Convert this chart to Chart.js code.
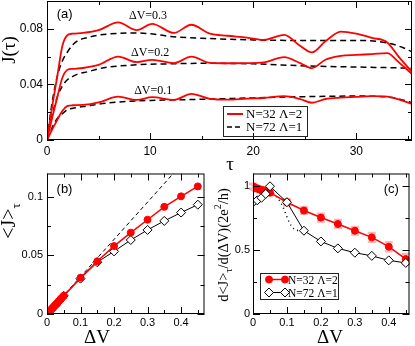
<!DOCTYPE html>
<html>
<head>
<meta charset="utf-8">
<script src="https://cdn.jsdelivr.net/npm/chart.js@4.4.1/dist/chart.umd.min.js"></script>
<style>
  body { margin: 0; background: #fff; }
  #wrap { position: relative; width: 415px; height: 346px; overflow: hidden; }
  canvas { position: absolute; }
</style>
</head>
<body>
<div id="wrap">
  <canvas id="chartA" width="415" height="172" style="left:0;top:0"></canvas>
  <canvas id="chartB" width="210" height="178" style="left:0;top:168px"></canvas>
  <canvas id="chartC" width="210" height="178" style="left:205px;top:168px"></canvas>
</div>
<script>
// (a) J(tau): red = N=32 Lambda=2, dashed = N=72 Lambda=1
const tauRed = [0, 0.5, 1, 1.5, 2, 2.5, 3.5, 5, 6.9, 8.7, 10.2, 12.3, 14, 15.8, 17.5, 19.4, 21, 23, 24.5, 25.7, 27, 28.5, 30, 31.5, 33, 34.1, 35.4];
const jRed03 = [0, 0.024, 0.046, 0.068, 0.0755, 0.0765, 0.077, 0.079, 0.0846, 0.079, 0.0836, 0.077, 0.0829, 0.0765, 0.075, 0.0737, 0.072, 0.0757, 0.068, 0.063, 0.071, 0.078, 0.0765, 0.0735, 0.0702, 0.06, 0.049];
const jRed02 = [0, 0.016, 0.031, 0.045, 0.0505, 0.0512, 0.0518, 0.054, 0.06, 0.056, 0.0577, 0.0553, 0.06, 0.0555, 0.0552, 0.0553, 0.0558, 0.0596, 0.0555, 0.0517, 0.0577, 0.0605, 0.0612, 0.0618, 0.0625, 0.056, 0.0475];
const jRed01 = [0, 0.0075, 0.0145, 0.021, 0.0245, 0.025, 0.0252, 0.027, 0.0312, 0.0288, 0.0308, 0.0288, 0.0332, 0.0296, 0.029, 0.0298, 0.0302, 0.0315, 0.0296, 0.0268, 0.0295, 0.0305, 0.031, 0.0315, 0.0312, 0.0292, 0.026];
const tauDash = [0, 0.5, 1, 1.5, 2, 2.5, 3, 4, 5, 6, 8, 10, 12, 15, 20, 25, 30, 32, 33.5, 34.5, 35.4];
const jDash03 = [0, 0.027, 0.046, 0.057, 0.0635, 0.0685, 0.0715, 0.0738, 0.0755, 0.0763, 0.077, 0.0765, 0.0745, 0.0732, 0.072, 0.0716, 0.0716, 0.071, 0.069, 0.0665, 0.0635];
const jDash02 = [0, 0.018, 0.031, 0.039, 0.0435, 0.0458, 0.0475, 0.0492, 0.0512, 0.0525, 0.0538, 0.0545, 0.0548, 0.0552, 0.0548, 0.0533, 0.0525, 0.0522, 0.052, 0.0518, 0.0515];
const jDash01 = [0, 0.009, 0.0155, 0.019, 0.0218, 0.0228, 0.0235, 0.0245, 0.0258, 0.0267, 0.0278, 0.0285, 0.0288, 0.0293, 0.0303, 0.0312, 0.0316, 0.0314, 0.0305, 0.0288, 0.0268];

// (b) <J>_tau vs dV, (c) d<J>/d(dV)
const dvRed = [0, 0.005, 0.01, 0.015, 0.02, 0.025, 0.03, 0.035, 0.04, 0.045, 0.05, 0.1, 0.15, 0.2, 0.25, 0.3, 0.35, 0.4, 0.45];
const jAvgRed = [0, 0.0016, 0.0032, 0.0048, 0.0063, 0.0079, 0.0094, 0.011, 0.0125, 0.014, 0.0155, 0.031, 0.045, 0.058, 0.0695, 0.0805, 0.0915, 0.1005, 0.109];
const dvBlack = [0, 0.0125, 0.025, 0.0375, 0.05, 0.1, 0.15, 0.2, 0.25, 0.3, 0.35, 0.4, 0.45];
const jAvgBlack = [0, 0.0035, 0.0072, 0.0112, 0.0155, 0.0302, 0.0442, 0.0535, 0.0632, 0.0718, 0.0795, 0.0866, 0.0934];
const dvOhm = [0, 0.38];
const jOhm = [0, 0.121];
const gRed = [1.0, 0.99, 0.985, 0.98, 0.975, 0.97, 0.968, 0.965, 0.96, 0.955, 0.95, 0.875, 0.81, 0.755, 0.705, 0.652, 0.6, 0.527, 0.43];
const gRedErr = [0.02, 0.02, 0.02, 0.02, 0.02, 0.02, 0.02, 0.02, 0.02, 0.02, 0.02, 0.025, 0.025, 0.03, 0.03, 0.03, 0.035, 0.035, 0.04];
const gBlack = [0.875, 0.89, 0.91, 0.94, 1.0, 0.875, 0.652, 0.568, 0.514, 0.48, 0.455, 0.42, 0.4];
const dvDot = [0.05, 0.073, 0.087, 0.097, 0.107, 0.121, 0.15];
const gDot = [0.97, 0.908, 0.845, 0.78, 0.717, 0.666, 0.648];

// labelled ticks
const xTicksA = [0, 10, 20, 30];
const yTicksA = [0, 0.04, 0.08];
const xTicksBC = [0, 0.1, 0.2, 0.3, 0.4];
const yTicksB = [0, 0.05, 0.1];
const yTicksC = [0, 0.5, 1];

const SANS = "'Liberation Sans', Arial, sans-serif";
const SERIF = "'Liberation Serif', 'Times New Roman', serif";
const RED = '#ff0000';

const xy = (xs, ys) => xs.map((x, i) => ({x, y: ys[i]}));
const has = (list, v) => list.some(t => Math.abs(t - v) < 1e-9);
const fmt = v => String(+v.toFixed(3));
const fixW = w => s => { s.width = w; s.paddingTop = 0; s.paddingBottom = 0; };
const fixH = h => s => { s.height = h; s.paddingLeft = 0; s.paddingRight = 0; };

function axis(min, max, step, labels, size, pad, fit) {
  return {
    type: 'linear', min, max,
    grid: {display: false, drawTicks: false},
    border: {display: false},
    ticks: {
      stepSize: step, autoSkip: false, includeBounds: false, maxRotation: 0, minRotation: 0,
      padding: pad, color: '#000', font: {family: SANS, size},
      callback: v => has(labels, v) ? fmt(v) : ''
    },
    afterFit: fit
  };
}

function curve(xs, ys, color, width, dash) {
  return {data: xy(xs, ys), showLine: true, borderColor: color, borderWidth: width,
    borderDash: dash, pointRadius: 0, cubicInterpolationMode: 'monotone', fill: false};
}

function marker(ctx, style, x, y, r) {
  ctx.beginPath();
  if (style === 'circle') ctx.arc(x, y, r, 0, Math.PI * 2);
  else { ctx.moveTo(x - r, y); ctx.lineTo(x, y - r); ctx.lineTo(x + r, y); ctx.lineTo(x, y + r); ctx.closePath(); }
  ctx.fill(); ctx.stroke();
}

// box with inward ticks on all four sides
const frame = {
  id: 'frame',
  afterDatasetsDraw(chart) {
    const {ctx, chartArea: a, scales: {x, y}} = chart;
    ctx.save();
    ctx.strokeStyle = '#000';
    ctx.lineWidth = 1;
    ctx.strokeRect(a.left + 0.5, a.top + 0.5, a.width - 1, a.height - 1);
    ctx.beginPath();
    x.ticks.forEach(t => {
      const p = Math.round(x.getPixelForValue(t.value)) + 0.5, n = t.label ? 7 : 4;
      ctx.moveTo(p, a.bottom); ctx.lineTo(p, a.bottom - n);
      ctx.moveTo(p, a.top); ctx.lineTo(p, a.top + n);
    });
    y.ticks.forEach(t => {
      const p = Math.round(y.getPixelForValue(t.value)) + 0.5, n = t.label ? 7 : 4;
      ctx.moveTo(a.left, p); ctx.lineTo(a.left + n, p);
      ctx.moveTo(a.right, p); ctx.lineTo(a.right - n, p);
    });
    ctx.stroke();
    ctx.restore();
  }
};

// text with sub/superscripts, optionally rotated, at data or pixel coords
const notes = {
  id: 'notes',
  afterDraw(chart, args, opts) {
    const {ctx, scales: {x, y}} = chart;
    opts.items.forEach(n => {
      const px = n.data ? x.getPixelForValue(n.at[0]) : n.at[0];
      const py = n.data ? y.getPixelForValue(n.at[1]) : n.at[1];
      ctx.save();
      ctx.translate(px, py);
      if (n.rot) ctx.rotate(-Math.PI / 2);
      ctx.fillStyle = '#000';
      ctx.textBaseline = n.baseline || 'alphabetic';
      ctx.textAlign = 'left';
      let w = 0;
      n.parts.forEach(p => { ctx.font = p.size + 'px ' + (p.family || SERIF); p.w = ctx.measureText(p.t).width; w += p.w; });
      let cx = n.align === 'left' ? 0 : -w / 2;
      n.parts.forEach(p => { ctx.font = p.size + 'px ' + (p.family || SERIF); ctx.fillText(p.t, cx, p.dy || 0); cx += p.w; });
      ctx.restore();
    });
  }
};

// boxed legend
const key = {
  id: 'key',
  afterDraw(chart, args, o) {
    const {ctx} = chart;
    ctx.save();
    ctx.strokeStyle = '#222';
    ctx.lineWidth = 1;
    ctx.strokeRect(o.box[0] + 0.5, o.box[1] + 0.5, o.box[2], o.box[3]);
    o.rows.forEach(r => {
      ctx.strokeStyle = r.color;
      ctx.lineWidth = r.width;
      ctx.setLineDash(r.dash || []);
      ctx.beginPath();
      ctx.moveTo(o.lineX[0], r.y); ctx.lineTo(o.lineX[1], r.y);
      ctx.stroke();
      ctx.setLineDash([]);
      if (r.marker) {
        ctx.lineWidth = 1;
        ctx.fillStyle = r.fill;
        o.lineX.forEach(mx => marker(ctx, r.marker, mx, r.y, r.radius));
      }
      ctx.fillStyle = '#000';
      ctx.font = o.size + 'px ' + SERIF;
      ctx.textBaseline = 'middle';
      ctx.fillText(r.text, o.textX, r.y + 1);
    });
    ctx.restore();
  }
};

// vertical error bars drawn under the points
const errorBars = {
  id: 'errorBars',
  beforeDatasetsDraw(chart, args, o) {
    const {ctx, scales: {x, y}} = chart;
    ctx.save();
    ctx.strokeStyle = o.color;
    ctx.lineWidth = o.width;
    ctx.beginPath();
    o.xs.forEach((v, i) => {
      const px = x.getPixelForValue(v);
      const lo = y.getPixelForValue(o.ys[i] - o.err[i]), hi = y.getPixelForValue(o.ys[i] + o.err[i]);
      ctx.moveTo(px, lo); ctx.lineTo(px, hi);
      ctx.moveTo(px - o.cap, lo); ctx.lineTo(px + o.cap, lo);
      ctx.moveTo(px - o.cap, hi); ctx.lineTo(px + o.cap, hi);
    });
    ctx.stroke();
    ctx.restore();
  }
};

const base = {responsive: false, animation: false, events: []};
const off = {legend: {display: false}, tooltip: {enabled: false}};

// Panel (a)
new Chart(document.getElementById('chartA'), {
  type: 'scatter',
  data: {datasets: [
    curve(tauRed, jRed03, RED, 1.8, []),
    curve(tauRed, jRed02, RED, 1.8, []),
    curve(tauRed, jRed01, RED, 1.8, []),
    curve(tauDash, jDash03, '#000', 1.5, [6, 4]),
    curve(tauDash, jDash02, '#000', 1.5, [6, 4]),
    curve(tauDash, jDash01, '#000', 1.5, [6, 4])
  ]},
  options: {...base,
    layout: {padding: {left: 0, top: 1, right: 3, bottom: 0}},
    scales: {
      x: axis(0, 35.4, 5, xTicksA, 12, 4, fixH(32)),
      y: axis(0, 0.1, 0.02, yTicksA, 12, 4, fixW(47))
    },
    plugins: {...off,
      notes: {items: [
        {parts: [{t: '(a)', size: 13, family: SANS}], at: [0.94, 0.0901], data: true, align: 'left', baseline: 'middle'},
        {parts: [{t: 'ΔV=0.3', size: 12}], at: [9.8, 0.0894], data: true, baseline: 'middle'},
        {parts: [{t: 'ΔV=0.2', size: 12}], at: [10, 0.0629], data: true, baseline: 'middle'},
        {parts: [{t: 'ΔV=0.1', size: 12}], at: [10.3, 0.0355], data: true, baseline: 'middle'},
        {parts: [{t: 'J(τ)', size: 19}], at: [15, 50], rot: true},
        {parts: [{t: 'τ', size: 19}], at: [230, 170]}
      ]},
      key: {box: [223, 106, 84, 30], lineX: [227, 243], textX: 246, size: 13, rows: [
        {y: 114, text: 'N=32 Λ=2', color: RED, width: 2},
        {y: 127, text: 'N=72 Λ=1', color: '#000', width: 1.5, dash: [5, 3]}
      ]}
    }
  },
  plugins: [frame, notes, key]
});

// Panel (b)
new Chart(document.getElementById('chartB'), {
  type: 'scatter',
  data: {datasets: [
    {data: xy(dvRed, jAvgRed), showLine: true, borderColor: RED, borderWidth: 1.5,
      pointRadius: 3.5, pointBackgroundColor: RED, pointBorderColor: RED, pointBorderWidth: 1},
    {data: xy(dvBlack, jAvgBlack), showLine: true, borderColor: '#000', borderWidth: 1,
      pointStyle: 'rectRot', pointRadius: 4.5, pointBackgroundColor: '#fff', pointBorderColor: '#000', pointBorderWidth: 1},
    {data: xy(dvOhm, jOhm), showLine: true, borderColor: '#000', borderWidth: 1, borderDash: [4, 3], pointRadius: 0}
  ]},
  options: {...base,
    layout: {padding: {left: 0, top: 2, right: 3, bottom: 0}},
    scales: {
      x: axis(0, 0.47, 0.05, xTicksBC, 11, 2, fixH(32)),
      y: axis(0, 0.12, 0.025, yTicksB, 11, 4, fixW(47))
    },
    plugins: {...off,
      notes: {items: [
        {parts: [{t: '(b)', size: 13, family: SANS}], at: [0.0285, 0.1067], data: true, align: 'left', baseline: 'middle'},
        {parts: [{t: '<J>', size: 20}, {t: 'τ', size: 13, dy: 5}], at: [15, 53], rot: true},
        {parts: [{t: 'ΔV', size: 19}], at: [97, 175]}
      ]}
    }
  },
  plugins: [frame, notes]
});

// Panel (c)
new Chart(document.getElementById('chartC'), {
  type: 'scatter',
  data: {datasets: [
    {data: xy(dvBlack, gBlack), showLine: true, borderColor: '#000', borderWidth: 1,
      pointStyle: 'rectRot', pointRadius: 4.5, pointBackgroundColor: '#fff', pointBorderColor: '#000', pointBorderWidth: 1},
    {data: xy(dvRed, gRed), showLine: true, borderColor: RED, borderWidth: 1.5,
      pointRadius: 3.5, pointBackgroundColor: RED, pointBorderColor: RED, pointBorderWidth: 1},
    {data: xy(dvDot, gDot), showLine: true, borderColor: '#000', borderWidth: 1.5, borderDash: [1, 3.5],
      pointRadius: 0, cubicInterpolationMode: 'monotone'}
  ]},
  options: {...base,
    layout: {padding: {left: 0, top: 2, right: 2, bottom: 0}},
    scales: {
      x: axis(0, 0.461, 0.05, xTicksBC, 11, 2, fixH(32)),
      y: axis(0, 1.1, 0.25, yTicksC, 11, 3, fixW(48))
    },
    plugins: {...off,
      errorBars: {xs: dvRed, ys: gRed, err: gRedErr, color: 'rgba(255,90,90,0.45)', width: 2.5, cap: 4},
      notes: {items: [
        {parts: [{t: 'd<J>', size: 14.5}, {t: 'τ', size: 10, dy: 4}, {t: '/d(ΔV)(2e', size: 14.5}, {t: '2', size: 10, dy: -7}, {t: '/h)', size: 14.5}], at: [23, 77], rot: true},
        {parts: [{t: '(c)', size: 13, family: SANS}], at: [0.385, 0.972], data: true, align: 'left', baseline: 'middle'},
        {parts: [{t: 'ΔV', size: 19}], at: [125, 175]}
      ]},
      key: {box: [55, 105, 78, 26], lineX: [64, 80], textX: 83, size: 11.5, rows: [
        {y: 111.5, text: 'N=32 Λ=2', color: RED, width: 1.5, marker: 'circle', radius: 3.5, fill: RED},
        {y: 124.5, text: 'N=72 Λ=1', color: '#000', width: 1, marker: 'diamond', radius: 4.5, fill: '#fff'}
      ]}
    }
  },
  plugins: [errorBars, frame, notes, key]
});
</script>
</body>
</html>
